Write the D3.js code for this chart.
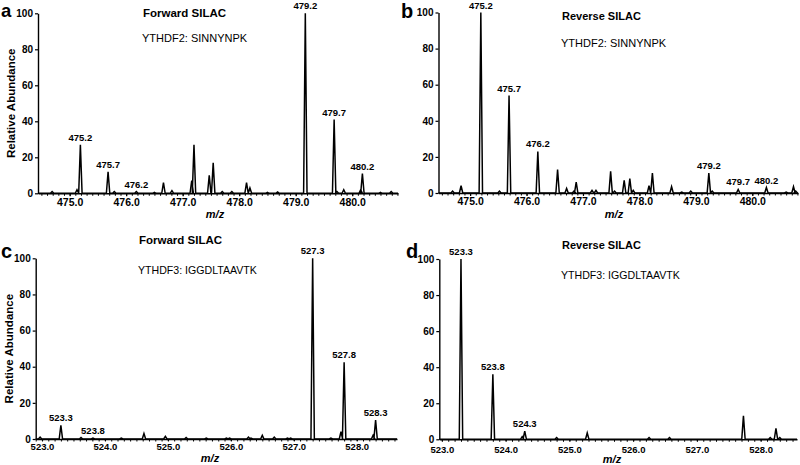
<!DOCTYPE html>
<html>
<head>
<meta charset="utf-8">
<script src="https://cdn.jsdelivr.net/npm/d3@7"></script>
<style>
  html, body { margin: 0; padding: 0; background: #fff; }
  svg { display: block; }
  text { font-family: "Liberation Sans", Arial, sans-serif; fill: #000; }
</style>
</head>
<body>
<svg id="chart" width="800" height="465"></svg>
<script>
// ---------- DATA ----------
// Panel a: Forward SILAC, YTHDF2: SINNYNPK  [m/z, relative abundance]
const spectrumA = [
  [474.69, 1], [475.13, 2], [475.19, 27], [475.68, 12], [475.79, 1],
  [476.18, 1], [476.50, 0.5], [476.66, 6], [476.81, 1.5], [477.16, 7],
  [477.20, 27], [477.47, 10], [477.54, 17], [477.70, 1], [477.87, 1],
  [478.13, 6], [478.19, 3], [478.50, 0.5], [478.68, 0.8], [479.17, 100],
  [479.68, 41], [479.73, 1], [479.85, 2], [480.15, 2], [480.18, 11],
  [480.50, 0.5], [480.69, 1]
];
const labelsA = [["475.2", 475.19, 27], ["475.7", 475.68, 12], ["476.2", 476.18, 1],
                 ["479.2", 479.17, 100], ["479.7", 479.68, 41], ["480.2", 480.18, 11]];

// Panel b: Reverse SILAC, YTHDF2: SINNYNPK
const spectrumB = [
  [474.69, 1], [474.84, 4], [475.19, 100], [475.52, 1], [475.69, 54],
  [476.20, 23], [476.55, 13], [476.71, 2.5], [476.84, 1], [476.88, 6],
  [477.16, 1.5], [477.23, 1.5], [477.49, 12], [477.56, 1], [477.73, 7],
  [477.83, 8], [477.89, 1.5], [478.17, 4], [478.23, 11], [478.57, 3.5],
  [478.75, 0.5], [478.91, 1], [479.23, 11], [479.29, 1], [479.75, 2],
  [480.25, 3], [480.60, 0.5], [480.73, 3.5], [480.77, 1]
];
const labelsB = [["475.2", 475.19, 100], ["475.7", 475.69, 54], ["476.2", 476.20, 23],
                 ["479.2", 479.23, 11], ["479.7", 479.75, 2], ["480.2", 480.25, 3]];

// Panel c: Forward SILAC, YTHDF3: IGGDLTAAVTK
const spectrumC = [
  [522.97, 1], [523.30, 7.5], [523.62, 0.8], [523.81, 0.5], [524.26, 0.5],
  [524.62, 3], [524.96, 1.5], [525.29, 0.8], [525.61, 0.5], [525.93, 0.5],
  [525.98, 0.5], [526.28, 1], [526.32, 0.5], [526.50, 2], [526.69, 1],
  [526.90, 0.5], [526.95, 0.5], [527.30, 100], [527.59, 0.5], [527.75, 4],
  [527.80, 42.5], [528.26, 2], [528.30, 10.5]
];
const labelsC = [["523.3", 523.30, 7.5], ["523.8", 523.81, 0.5], ["527.3", 527.30, 100],
                 ["527.8", 527.80, 42.5], ["528.3", 528.30, 10.5]];

// Panel d: Reverse SILAC, YTHDF3: IGGDLTAAVTK
const spectrumD = [
  [523.30, 100], [523.80, 36], [524.26, 1.5], [524.30, 4.5], [524.80, 1],
  [525.28, 3.5], [526.25, 1], [526.57, 1], [527.73, 13], [528.15, 1],
  [528.24, 6], [528.30, 1]
];
const labelsD = [["523.3", 523.30, 100], ["523.8", 523.80, 36], ["524.3", 524.30, 4.5]];

const xDomainAB = [474.44, 480.81];
const xDomainC = [522.90, 528.64];
const xDomainD = [522.96, 528.57];
const xMajorAB = [475, 476, 477, 478, 479, 480];
const xMajorCD = [523, 524, 525, 526, 527, 528];
const yTicks = [0, 20, 40, 60, 80, 100];

// ---------- DRAW ----------
const svg = d3.select("#chart");
const FONT = '"Liberation Sans", Arial, sans-serif';

function panel(cfg) {
  const g = svg.append("g");
  const x = d3.scaleLinear().domain(cfg.xDomain).range([cfg.left, cfg.right]);
  const y = d3.scaleLinear().domain([0, 100]).range([cfg.bottom, cfg.top]);

  // minor x ticks every 0.1
  const lo = Math.ceil(cfg.xDomain[0] * 10), hi = Math.floor(cfg.xDomain[1] * 10);
  const minor = d3.range(lo, hi + 1).map(v => v / 10);
  g.append("g")
    .attr("transform", `translate(0,${cfg.bottom})`)
    .call(d3.axisBottom(x).tickValues(minor).tickSize(2.5).tickFormat(""))
    .call(a => a.select(".domain").remove())
    .call(a => a.selectAll("line").attr("stroke", "#000").attr("stroke-width", 1));

  // major x axis
  const xa = g.append("g")
    .attr("transform", `translate(0,${cfg.bottom})`)
    .call(d3.axisBottom(x).tickValues(cfg.xMajor).tickSize(cfg.xTickSize).tickSizeOuter(0)
      .tickPadding(cfg.xTickPad).tickFormat(d3.format(".1f")));
  xa.select(".domain").attr("stroke", "#000").attr("stroke-width", 1.4);
  xa.selectAll("line").attr("stroke", "#000").attr("stroke-width", 1.2);
  xa.selectAll("text").attr("font-family", FONT).attr("font-size", cfg.xFont)
    .attr("font-weight", "bold").attr("fill", "#000");

  // y axis
  const ya = g.append("g")
    .attr("transform", `translate(${cfg.left},0)`)
    .call(d3.axisLeft(y).tickValues(yTicks).tickSize(3).tickSizeOuter(0).tickPadding(2));
  ya.select(".domain").attr("stroke", "#000").attr("stroke-width", 1.4);
  ya.selectAll("line").attr("stroke", "#000").attr("stroke-width", 1.2);
  ya.selectAll("text").attr("font-family", FONT).attr("font-size", 10)
    .attr("font-weight", "bold").attr("fill", "#000");

  // spectrum profile: each peak drawn as a narrow triangle through the scales
  const hw = 1.7; // half-width of a peak in pixels
  const pts = [[cfg.left, y(0)]];
  cfg.spectrum.slice().sort((a, b) => a[0] - b[0]).forEach(([mz, h]) => {
    pts.push([x(mz) - hw, y(0)], [x(mz), y(h)], [x(mz) + hw, y(0)]);
  });
  pts.push([cfg.right, y(0)]);
  g.append("path")
    .attr("d", d3.line()(pts))
    .attr("fill", "none")
    .attr("stroke", "#000")
    .attr("stroke-width", 1.5)
    .attr("stroke-linejoin", "miter");

  // peak labels
  g.selectAll("text.pk").data(cfg.labels).enter().append("text")
    .attr("class", "pk")
    .attr("x", d => x(d[1]))
    .attr("y", d => y(d[2]) - 4)
    .attr("text-anchor", "middle")
    .attr("font-family", FONT).attr("font-size", 9.5).attr("font-weight", "bold")
    .text(d => d[0]);

  // titles
  g.append("text").attr("x", cfg.titleX).attr("y", cfg.titleY)
    .attr("font-family", FONT).attr("font-size", cfg.titleSize).attr("font-weight", "bold")
    .text(cfg.title);
  g.append("text").attr("x", cfg.subX).attr("y", cfg.subY)
    .attr("font-family", FONT).attr("font-size", cfg.subSize)
    .text(cfg.sub);

  // x axis label
  g.append("text").attr("x", cfg.mzX).attr("y", cfg.mzY)
    .attr("text-anchor", "middle")
    .attr("font-family", FONT).attr("font-size", 11).attr("font-weight", "bold")
    .attr("font-style", "italic").text("m/z");

  // y axis label
  if (cfg.ylabel) {
    g.append("text")
      .attr("transform", `translate(${cfg.left - 23},${(cfg.top + cfg.bottom) / 2}) rotate(-90)`)
      .attr("text-anchor", "middle")
      .attr("font-family", FONT).attr("font-size", 11.5).attr("font-weight", "bold")
      .text("Relative Abundance");
  }

  // panel letter
  g.append("text").attr("x", cfg.letterX).attr("y", cfg.letterY)
    .attr("font-family", FONT).attr("font-size", cfg.letterSize).attr("font-weight", "bold")
    .text(cfg.letter);
}

panel({ letter: "a", letterX: 1, letterY: 16.5, letterSize: 18.5,
  left: 38, right: 398, top: 13.3, bottom: 193.3,
  xDomain: xDomainAB, xMajor: xMajorAB, spectrum: spectrumA, labels: labelsA,
  xTickSize: 3, xTickPad: 2, xFont: 10.5, mzX: 215, mzY: 218,
  title: "Forward SILAC", titleSize: 11.5, titleX: 143, titleY: 17,
  sub: "YTHDF2: SINNYNPK", subSize: 11, subX: 142, subY: 42, ylabel: true });

panel({ letter: "b", letterX: 401, letterY: 18, letterSize: 20,
  left: 438.5, right: 798, top: 12.5, bottom: 193,
  xDomain: xDomainAB, xMajor: xMajorAB, spectrum: spectrumB, labels: labelsB,
  xTickSize: 3, xTickPad: 2, xFont: 10.5, mzX: 614, mzY: 218,
  title: "Reverse SILAC", titleSize: 11, titleX: 562, titleY: 20,
  sub: "YTHDF2: SINNYNPK", subSize: 11, subX: 561, subY: 47, ylabel: false });

panel({ letter: "c", letterX: 1, letterY: 258, letterSize: 20,
  left: 35.7, right: 397, top: 258.3, bottom: 439,
  xDomain: xDomainC, xMajor: xMajorCD, spectrum: spectrumC, labels: labelsC,
  xTickSize: 2, xTickPad: 2, xFont: 9.5, mzX: 210, mzY: 462,
  title: "Forward SILAC", titleSize: 11.5, titleX: 139, titleY: 244,
  sub: "YTHDF3: IGGDLTAAVTK", subSize: 10.6, subX: 138, subY: 274, ylabel: true });

panel({ letter: "d", letterX: 406, letterY: 258, letterSize: 20,
  left: 439.3, right: 797, top: 259, bottom: 439.3,
  xDomain: xDomainD, xMajor: xMajorCD, spectrum: spectrumD, labels: labelsD,
  xTickSize: 2, xTickPad: 5.3, xFont: 9.5, mzX: 612, mzY: 462.5,
  title: "Reverse SILAC", titleSize: 11, titleX: 562, titleY: 249,
  sub: "YTHDF3: IGGDLTAAVTK", subSize: 10.6, subX: 561, subY: 279, ylabel: false });
</script>
</body>
</html>
